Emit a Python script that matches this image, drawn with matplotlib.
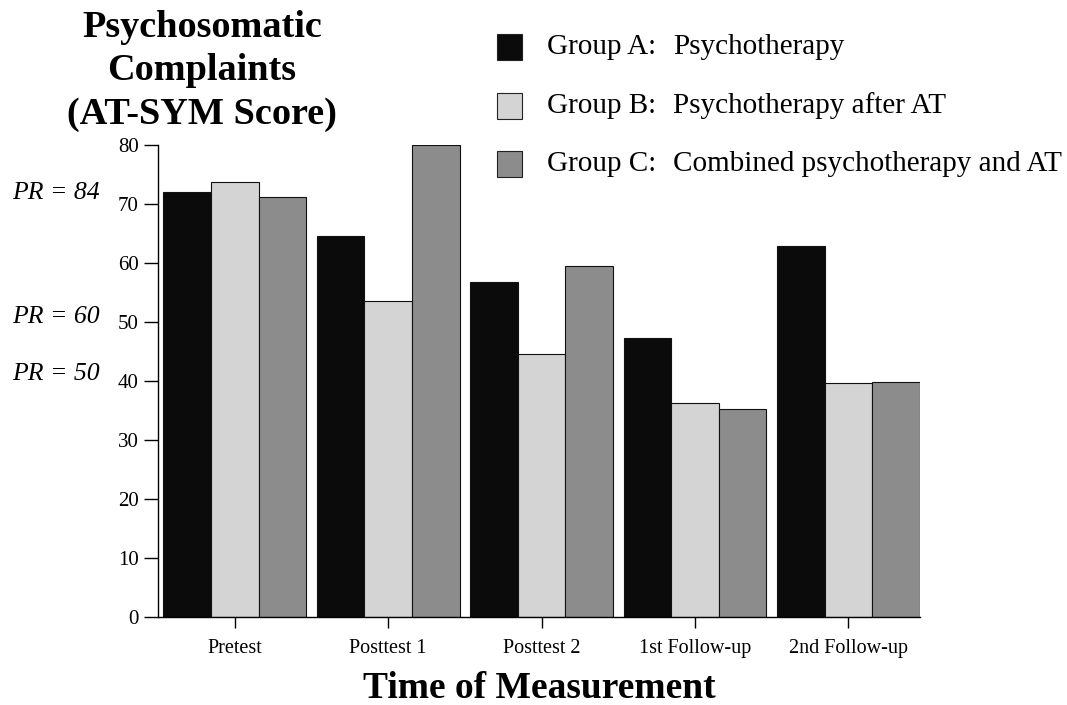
import matplotlib.pyplot as plt
import numpy as np
from matplotlib.patches import Rectangle
from matplotlib import transforms

plt.rcParams['font.family'] = ['Liberation Serif', 'DejaVu Serif']

# data
times = ['Pretest', 'Posttest 1', 'Posttest 2', '1st Follow-up', '2nd Follow-up']
group_a = [72.1, 64.6, 56.8, 47.3, 62.8]
group_b = [73.7, 53.6, 44.5, 36.2, 39.6]
group_c = [71.2, 80.0, 59.5, 35.2, 39.8]

group_keys = ['Group A:', 'Group B:', 'Group C:']
group_names = ['Psychotherapy', 'Psychotherapy after AT', 'Combined psychotherapy and AT']
colors = ['#0b0b0b', '#d4d4d4', '#8c8c8c']

pr_labels = ['PR = 84', 'PR = 60', 'PR = 50']
pr_levels = [71.9, 50.8, 41.2]

W, H = 1067, 705
fig = plt.figure(figsize=(W / 100, H / 100), dpi=100)
ax = fig.add_axes([158 / W, 1 - 617 / H, (920 - 158) / W, (617 - 145) / H])

x = np.arange(len(times))
width = 0.31
for i, vals in enumerate([group_a, group_b, group_c]):
    ax.bar(x + (i - 1) * width, vals, width, color=colors[i],
           edgecolor='#111111', linewidth=0.8)

ax.set_xlim(-0.5, 4.466)
ax.set_ylim(0, 80)
ax.set_yticks(np.arange(0, 81, 10))
ax.set_xticks(x)
ax.set_xticklabels(times)
ax.tick_params(axis='y', labelsize=15, length=10, width=1, pad=4)
ax.tick_params(axis='x', labelsize=14.5, length=8, width=1, pad=8)
for s in ['top', 'right']:
    ax.spines[s].set_visible(False)
ax.spines['left'].set_linewidth(1)
ax.spines['bottom'].set_linewidth(1)

ax.set_xlabel('Time of Measurement', fontsize=27, fontweight='bold', labelpad=9)

# title block top left
fig.text(202 / W, 1 - 71 / H, 'Psychosomatic\nComplaints\n(AT-SYM Score)',
         ha='center', va='center', fontsize=27.5, fontweight='bold',
         linespacing=1.32, multialignment='center')

# percentile rank labels next to the y axis
trans = transforms.blended_transform_factory(fig.transFigure, ax.transData)
for lab, lev in zip(pr_labels, pr_levels):
    ax.text(100 / W, lev, lab, transform=trans, ha='right', va='center',
            fontsize=18.5, style='italic', clip_on=False)

# legend drawn by hand
row_y = [47, 106, 164]
for i in range(3):
    yc = 1 - row_y[i] / H
    sq = Rectangle((497 / W, yc - 12.5 / H), 25 / W, 25 / H, transform=fig.transFigure,
                   facecolor=colors[i], edgecolor='#222222', linewidth=0.8)
    fig.add_artist(sq)
    fig.text(547 / W, yc, group_keys[i], ha='left', va='center', fontsize=21)
    fig.text(673 / W, yc, group_names[i], ha='left', va='center', fontsize=21)

fig.savefig('out.png', dpi=100)
